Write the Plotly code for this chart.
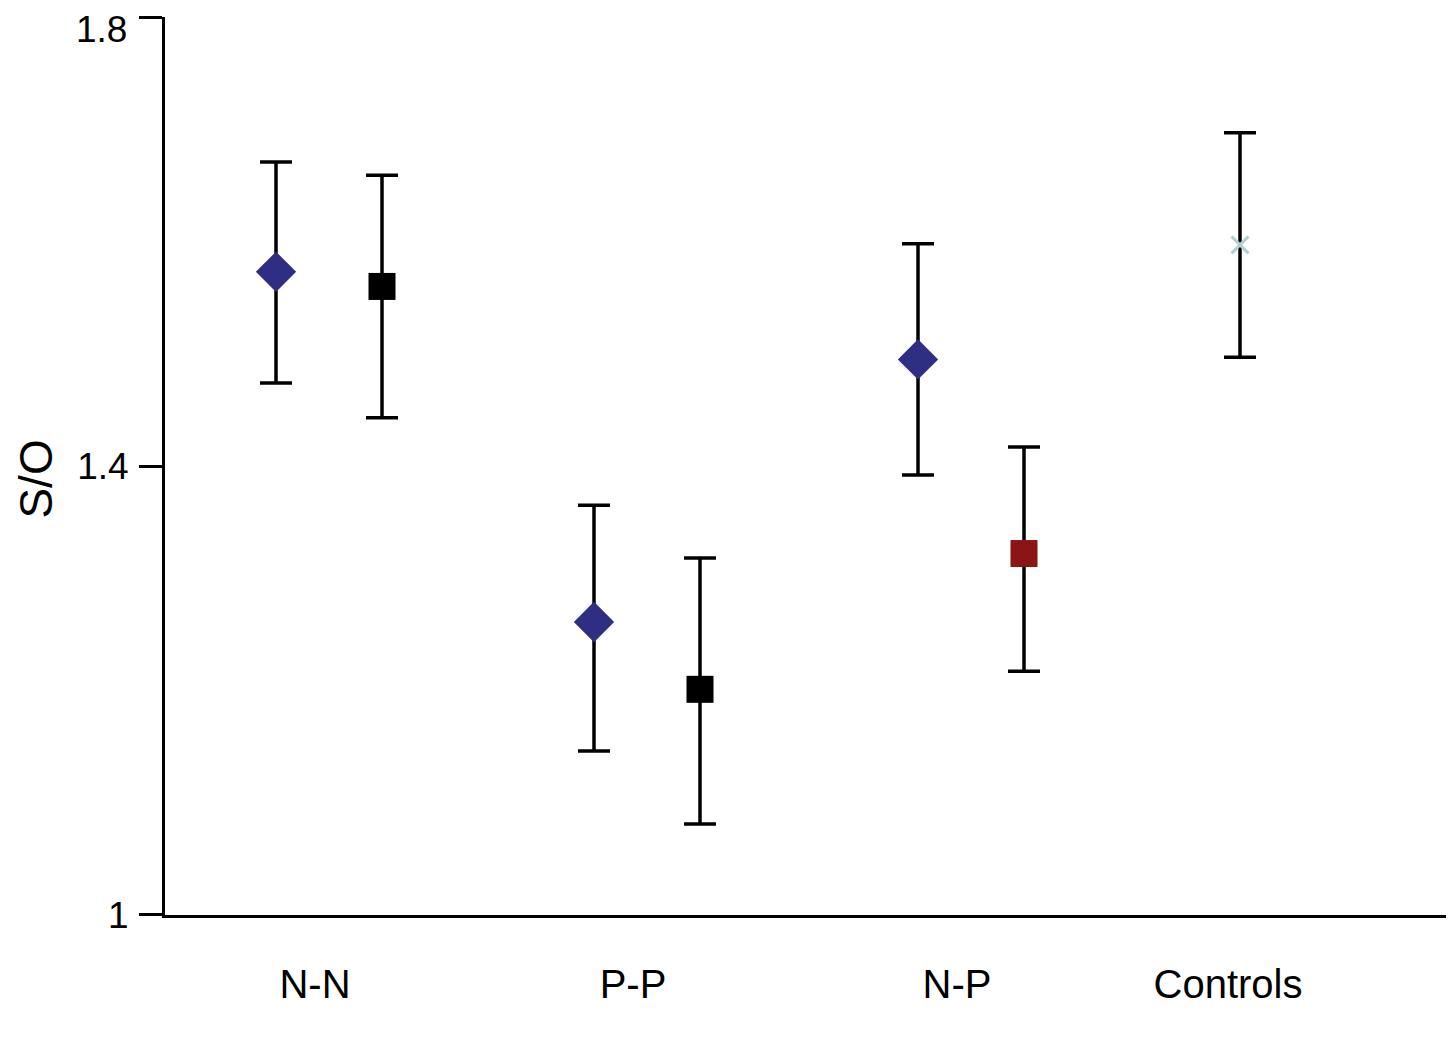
import plotly.graph_objects as go

# ---- data ----
categories = ["N-N", "P-P", "N-P", "Controls"]

diamond_groups = ["N-N", "P-P", "N-P"]
diamond_mean = [1.573, 1.261, 1.495]
diamond_up = [0.098, 0.104, 0.103]
diamond_down = [0.099, 0.115, 0.103]

square_groups = ["N-N", "P-P", "N-P"]
square_mean = [1.560, 1.201, 1.322]
square_up = [0.099, 0.117, 0.095]
square_down = [0.117, 0.120, 0.105]

control_groups = ["Controls"]
control_mean = [1.597]
control_up = [0.100]
control_down = [0.100]

y_ticks = [1, 1.4, 1.8]
y_ticklabels = ["1", "1.4", "1.8"]

# ---- layout positions (axis units; 1 unit = 100 px) ----
label_pos = {"N-N": 1.50, "P-P": 4.68, "N-P": 7.92, "Controls": 10.63}
diamond_offset = -0.39
square_offset = 0.67
control_offset = 0.12

square_colors = ["#000000", "#000000", "#8b1515"]

FONT = "Liberation Sans, Arial, Helvetica, sans-serif"
err_style = dict(type="data", symmetric=False, color="black", thickness=3.5, width=16)

fig = go.Figure()

fig.add_trace(go.Scatter(
    x=[label_pos[g] + diamond_offset for g in diamond_groups],
    y=diamond_mean,
    mode="markers",
    marker=dict(symbol="diamond", size=31, color="#2e2e82"),
    error_y=dict(array=diamond_up, arrayminus=diamond_down, **err_style),
    showlegend=False,
))

fig.add_trace(go.Scatter(
    x=[label_pos[g] + square_offset for g in square_groups],
    y=square_mean,
    mode="markers",
    marker=dict(symbol="square", size=27, color=square_colors),
    error_y=dict(array=square_up, arrayminus=square_down, **err_style),
    showlegend=False,
))

fig.add_trace(go.Scatter(
    x=[label_pos[g] + control_offset for g in control_groups],
    y=control_mean,
    mode="markers",
    marker=dict(symbol="x-thin", size=17, color="#b3cfcf",
                line=dict(color="#b3cfcf", width=3)),
    error_y=dict(array=control_up, arrayminus=control_down, **err_style),
    showlegend=False,
))

fig.add_annotation(
    text="S/O", textangle=-90, showarrow=False,
    xref="paper", yref="paper", x=-0.1, y=0.485,
    xanchor="center", yanchor="middle", borderpad=0,
    font=dict(family=FONT, size=46, color="black"),
)

# top tick label drawn just below its tick so it stays inside the page
top_label = y_ticklabels[-1]
fig.add_annotation(
    text=top_label, showarrow=False,
    xref="paper", yref="y", x=0, y=y_ticks[-1],
    xanchor="right", yanchor="top", xshift=-37, yshift=9, borderpad=0,
    font=dict(family=FONT, size=37, color="black"),
)

fig.update_layout(
    width=1446, height=1048,
    margin=dict(l=157, r=0, t=9, b=141, autoexpand=False),
    plot_bgcolor="white", paper_bgcolor="white",
    font=dict(family=FONT, color="black"),
    xaxis=dict(
        range=[0, 12.89],
        tickvals=[label_pos[c] for c in categories],
        ticktext=categories,
        ticks="", showgrid=False, zeroline=False,
        showline=True, linecolor="black", linewidth=3,
        tickfont=dict(family=FONT, size=40, color="black"),
        ticklabelstandoff=32,
        automargin=False,
        fixedrange=True,
    ),
    yaxis=dict(
        range=[0.9999, 1.8001],
        tickvals=y_ticks, ticktext=y_ticklabels[:-1] + [""],
        ticks="outside", ticklen=23, tickwidth=3, tickcolor="black",
        showgrid=False, zeroline=False,
        showline=True, linecolor="black", linewidth=3,
        tickfont=dict(family=FONT, size=37, color="black"),
        ticklabelstandoff=3,
        automargin=False,
        fixedrange=True,
    ),
)

fig.write_html("out.html")
